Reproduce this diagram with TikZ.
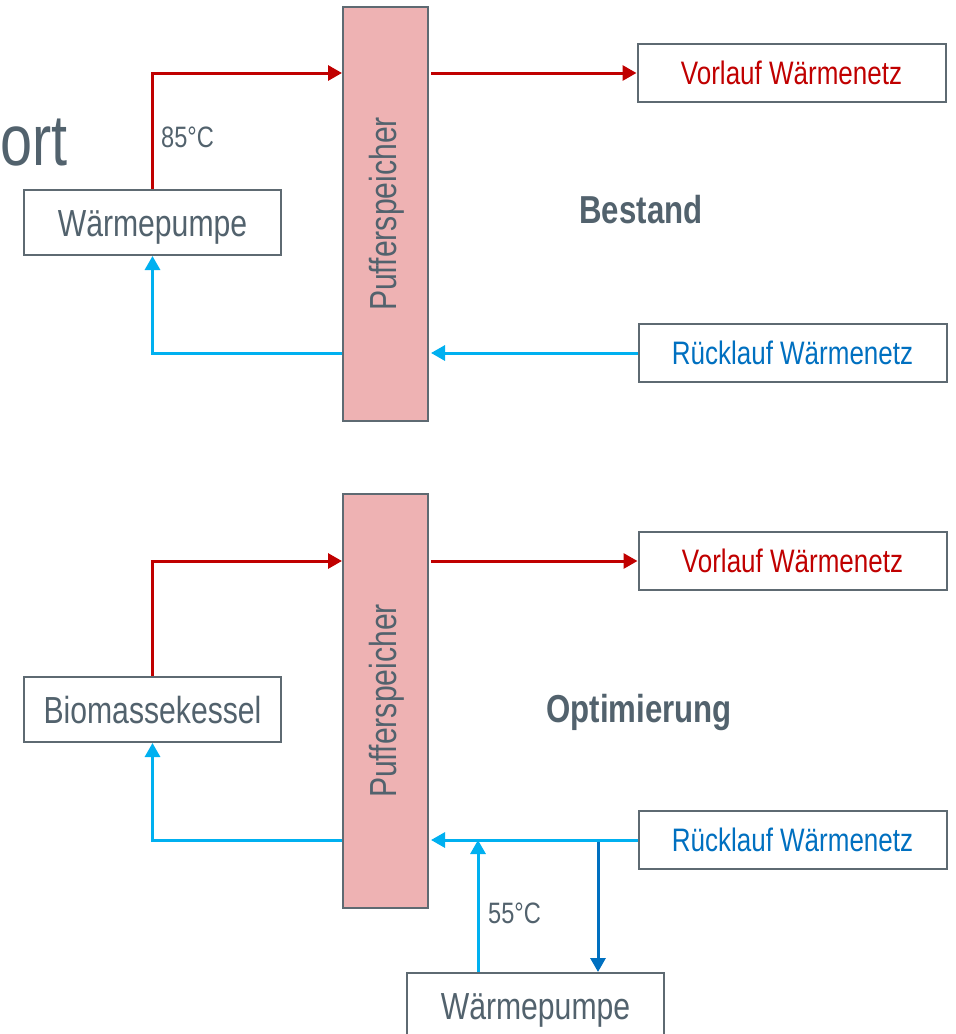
\documentclass[tikz,border=0pt]{standalone}
\usepackage{fontspec}
\setmainfont[FakeStretch=0.8]{Liberation Sans}
\usetikzlibrary{arrows.meta}

\definecolor{hotred}{HTML}{C00000}
\definecolor{coldblue}{HTML}{00B0F0}
\definecolor{netblue}{HTML}{0070C0}
\definecolor{slate}{HTML}{52626D}
\definecolor{boxgray}{HTML}{5E6A72}
\definecolor{pufpink}{HTML}{EEB2B3}

\begin{document}
\begin{tikzpicture}[x=1pt,y=-1pt,
    box/.style={draw=boxgray,line width=2pt,fill=white,inner sep=0pt,
                font=\fontsize{37.7}{40}\selectfont,text=slate},
    unitbox/.style={box,minimum width=257pt,minimum height=65pt,
                    text height=27pt,text depth=0pt},
    netbox/.style={box,minimum width=308pt,minimum height=58pt,
                   text height=23.5pt,text depth=0pt,
                   font=\fontsize{32.5}{35}\selectfont},
    pufbox/.style={draw=boxgray,line width=2pt,fill=pufpink,
                   minimum width=85pt,minimum height=414pt},
    templabel/.style={inner sep=0pt,anchor=west,text=slate,
                      font=\fontsize{29.5}{32}\selectfont},
    stage/.style={inner sep=0pt,text=slate,
                  font=\fontsize{39}{42}\selectfont\bfseries},
    hot/.style={draw=hotred,line width=3pt,-{Triangle[length=14pt,width=15pt]}},
    cold/.style={draw=coldblue,line width=3pt,-{Triangle[length=14pt,width=15pt]}},
    tonet/.style={draw=netblue,line width=3pt,-{Triangle[length=14pt,width=15pt]}}]

    % Page frame, the bottom box runs past it
    \useasboundingbox (0,0) rectangle (956,1034);
    \clip (0,0) rectangle (956,1034);

    % Cut-off title at the left edge
    \node[inner sep=0pt,anchor=base east,text=slate,
          font=\fontsize{72}{76}\selectfont] (title) at (68,165) {ort};

    % --- Bestand (top) ---
    \node[pufbox] (puf1) at (385.5,214) {};
    \node[rotate=90,text=slate,font=\fontsize{37.7}{40}\selectfont] (puf1txt) at ([xshift=1pt]puf1.center) {Pufferspeicher};
    \node[unitbox] (wp1) at (152.5,222.5) {Wärmepumpe};
    \node[netbox,text=hotred] (vl1) at (791.5,73) {Vorlauf Wärmenetz};
    \node[netbox,text=netblue] (rl1) at (792.5,353) {Rücklauf Wärmenetz};
    \node[stage] (bestand) at (641,210) {Bestand};
    \node[templabel] (t85) at (161,137) {85°C};

    % Flow and return, top
    \draw[hot] (wp1.north) |- (puf1.west |- vl1.west);
    \draw[hot] ([xshift=2pt]puf1.east |- vl1.west) -- (vl1.west);
    \draw[cold] (rl1.west) -- ([xshift=2pt]puf1.east |- rl1.west);
    \draw[cold] (puf1.west |- rl1.west) -| (wp1.south);

    % --- Optimierung (bottom) ---
    \node[pufbox] (puf2) at (385.5,701) {};
    \node[rotate=90,text=slate,font=\fontsize{37.7}{40}\selectfont] (puf2txt) at ([xshift=1pt]puf2.center) {Pufferspeicher};
    \node[unitbox] (bk2) at (152.5,709.5) {Biomassekessel};
    \node[netbox,text=hotred] (vl2) at (792.5,561) {Vorlauf Wärmenetz};
    \node[netbox,text=netblue] (rl2) at (792.5,840) {Rücklauf Wärmenetz};
    \node[unitbox] (wp2) at (535.5,1005.5) {Wärmepumpe};
    \node[stage] (optim) at (639,712) {Optimierung};
    \node[templabel] (t55) at (488,913) {55°C};

    % Junctions on the return line
    \coordinate (join) at (478,840);   % heat pump feeds in here
    \coordinate (tap) at (598,840);    % return water taken off here

    % Flow and return, bottom
    \draw[hot] (bk2.north) |- (puf2.west |- vl2.west);
    \draw[hot] ([xshift=2pt]puf2.east |- vl2.west) -- (vl2.west);
    \draw[tonet] (tap) -- (tap |- wp2.north);
    \draw[cold] (rl2.west) -- ([xshift=2pt]puf2.east |- rl2.west);
    \draw[cold] (puf2.west |- rl2.west) -| (bk2.south);
    \draw[cold] (join |- wp2.north) -- (join);

\end{tikzpicture}
\end{document}
